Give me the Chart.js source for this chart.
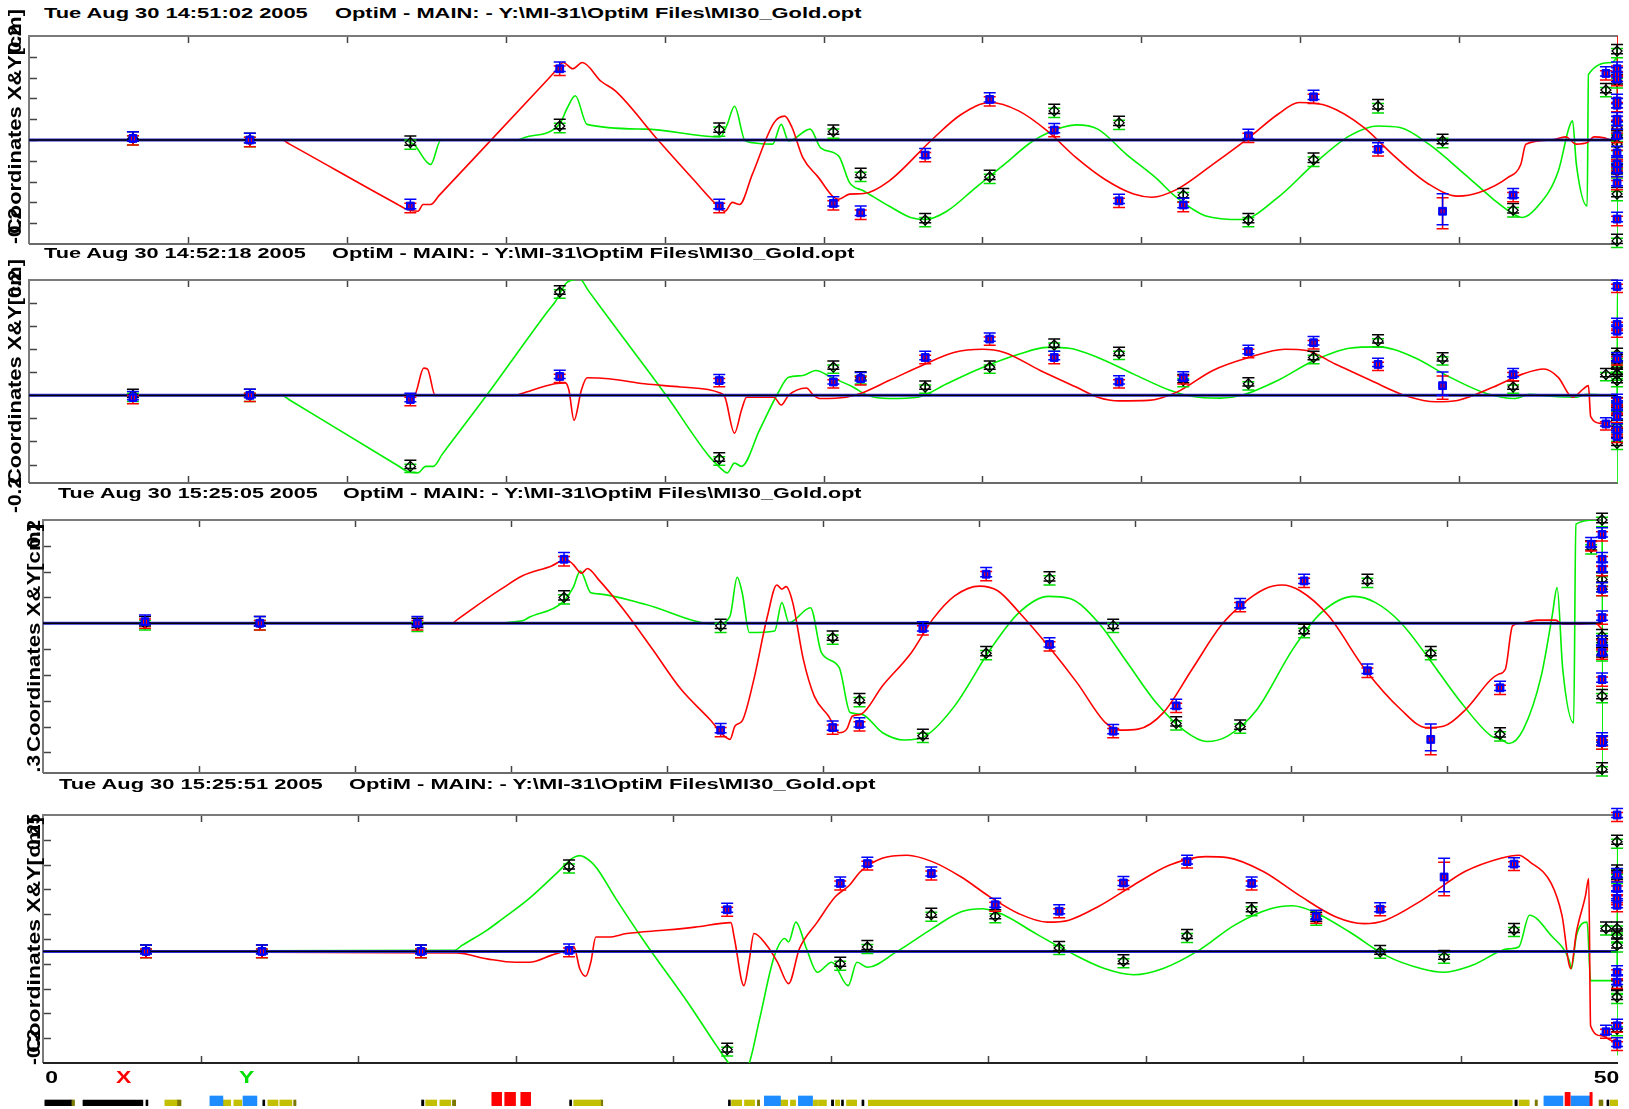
<!DOCTYPE html>
<html>
<head>
<meta charset="utf-8">
<title>OptiM orbit comparison</title>
<script src="https://cdn.jsdelivr.net/npm/chart.js@4.4.1/dist/chart.umd.min.js"></script>
<style>
  html, body { margin: 0; padding: 0; background: #fff; }
  body { width: 1629px; height: 1109px; position: relative; overflow: hidden;
         font-family: "Liberation Sans", Arial, sans-serif; }
  canvas { position: absolute; }
  .ttl { position: absolute; font-weight: bold; font-size: 14px; line-height: 14px;
         white-space: pre; transform-origin: 0 50%; color: #000; }
  .ylab { position: absolute; font-weight: bold; font-size: 18px; line-height: 18px;
          white-space: pre; transform-origin: 0 0; color: #000; }
  .xlab { position: absolute; font-weight: bold; font-size: 17px; line-height: 17px;
          white-space: pre; }
  .clip { position: absolute; overflow: hidden; }
</style>
</head>
<body>
<script>
// ---------- run headers ----------
const runTimes = ['Tue Aug 30 14:51:02 2005', 'Tue Aug 30 14:52:18 2005',
                  'Tue Aug 30 15:25:05 2005', 'Tue Aug 30 15:25:51 2005'];
const runFile = 'OptiM - MAIN: - Y:\\MI-31\\OptiM Files\\MI30_Gold.opt';
const axisTitle = 'Coordinates X&Y[cm]';
const axisEnds = [['-0.2', '0.2'], ['-0.2', '0.2'], ['-0.3', '0.2'], ['-0.2', '0.25']];
const sLabels = ['0', '50'];
const planeLabels = ['X', 'Y'];

// ---------- BPM positions along the line ----------
const bpmS = [3.27, 6.95, 12.0, 16.7, 21.72, 25.31, 26.17, 28.2, 30.23, 32.26, 34.3, 36.32, 38.37, 40.42, 42.45, 44.48, 46.7, 49.62];
const endS = 49.97;          // BPM group at the end of the line
const measErr = 0.009;       // typical BPM error [cm]
const wideBpm = 15;          // BPM with the large error
const wideErrX = [0.03, 0.025, 0.026, 0.034];

// ---------- measured orbits (X, Y) ----------
const measX1 = [0.003, 0, -0.127, 0.137, -0.127, -0.122, -0.14, -0.029, 0.078, 0.019, -0.117, -0.125, 0.008, 0.083, -0.018, -0.137, -0.106, 0.128];
const measY1 = [0.003, 0, -0.005, 0.027, 0.02, 0.016, -0.067, -0.154, -0.071, 0.056, 0.033, -0.106, -0.154, -0.038, 0.065, -0.002, -0.135, 0.096];
const endX1 = [0.137, 0.126, 0.117, 0.075, 0.067, 0.04, 0.033, 0.008, -0.025, -0.046, -0.058, -0.083, -0.152];
const endY1 = [0.171, 0.113, 0.023, 0.008, -0.008, -0.05, -0.06, -0.104, -0.194];

const measX2 = [-0.005, 0, -0.009, 0.041, 0.032, 0.029, 0.036, 0.082, 0.122, 0.082, 0.029, 0.038, 0.095, 0.114, 0.067, 0.021, 0.045, -0.062];
const measY2 = [0, 0, -0.154, 0.224, -0.138, 0.061, 0.038, 0.018, 0.061, 0.109, 0.091, 0.032, 0.025, 0.082, 0.118, 0.079, 0.018, 0.045];
const endX2 = [0.236, 0.154, 0.139, 0.079, -0.011, -0.025, -0.046, -0.075, -0.089];
const endY2 = [0.089, 0.075, 0.061, 0.046, 0.032, -0.018, -0.039, -0.068, -0.104];

const measX3 = [0.003, 0, 0, 0.124, -0.207, -0.202, -0.196, -0.01, 0.095, -0.041, -0.209, -0.16, 0.035, 0.082, -0.092, -0.225, -0.125, 0.153];
const measY3 = [0, 0, -0.003, 0.05, -0.005, -0.028, -0.149, -0.218, -0.058, 0.087, -0.005, -0.194, -0.2, -0.015, 0.082, -0.058, -0.215, 0.147];
const endX3 = [0.172, 0.124, 0.105, 0.066, 0.011, -0.037, -0.057, -0.109, -0.225, -0.231];
const endY3 = [0.2, 0.085, 0.066, -0.025, -0.037, -0.06, -0.141, -0.231, -0.283];

const measX4 = [0, 0, 0, 0.002, 0.084, 0.137, 0.177, 0.157, 0.094, 0.081, 0.138, 0.181, 0.137, 0.07, 0.085, 0.15, 0.176, -0.162];
const measY4 = [0, 0, 0, 0.171, -0.198, -0.025, 0.009, 0.074, 0.071, 0.007, -0.02, 0.031, 0.085, 0.066, -0.001, -0.011, 0.043, 0.046];
const endX4 = [0.275, 0.154, 0.127, 0.107, 0.093, -0.042, -0.062, -0.15, -0.187];
const endY4 = [0.221, 0.161, 0.15, 0.046, 0.032, 0.012, -0.072, -0.092, -0.157];

// ---------- model orbits [s, coordinate] ----------
const modelX1 = [[0,0],[7.96,0],[8.2,-0.008],[11.6,-0.124],[11.88,-0.133],[12.24,-0.137],[12.4,-0.124],[12.64,-0.124],[12.9,-0.107],[16.3,0.115],[16.57,0.133],[16.81,0.149],[17.11,0.137],[17.41,0.149],[18.0,0.113],[18.46,0.094],[19.82,-0.002],[20.95,-0.079],[21.63,-0.124],[21.9,-0.137],[22.13,-0.12],[22.36,-0.124],[22.76,-0.066],[23.44,0.033],[23.78,0.046],[24.01,0.024],[24.35,-0.034],[24.8,-0.069],[25.48,-0.114],[25.82,-0.104],[26.27,-0.103],[27.06,-0.079],[28.42,0.001],[29.33,0.049],[30.24,0.072],[31.14,0.056],[32.05,0.017],[32.95,-0.034],[33.86,-0.076],[34.76,-0.104],[35.33,-0.11],[36.12,-0.095],[37.25,-0.047],[38.38,0.004],[39.29,0.049],[39.97,0.072],[40.88,0.065],[42.01,0.024],[42.91,-0.028],[44.05,-0.085],[44.95,-0.108],[45.63,-0.101],[46.54,-0.072],[46.94,-0.047],[47.1,-0.008],[47.89,0],[48.35,0.006],[48.69,-0.008],[49.03,-0.005],[49.25,0.006],[49.82,-0.002],[49.96,-0.01],[50,0.21]];
const modelY1 = [[0,0],[11.64,0],[12.1,-0.008],[12.64,-0.047],[12.96,0],[15.37,0],[15.6,0.005],[16.69,0.03],[16.94,0.062],[17.19,0.085],[17.56,0.03],[19.37,0.021],[21.75,0.006],[21.97,0.03],[22.2,0.065],[22.54,-0.002],[23.4,-0.008],[23.67,0.03],[23.9,-0.002],[24.58,0.021],[24.91,-0.015],[25.48,-0.031],[25.82,-0.082],[26.27,-0.098],[27.06,-0.127],[27.74,-0.149],[28.2,-0.153],[28.88,-0.137],[29.78,-0.092],[30.69,-0.047],[31.59,-0.002],[32.5,0.024],[32.95,0.029],[33.63,0.021],[34.54,-0.028],[35.44,-0.072],[36.12,-0.111],[37.03,-0.146],[38.16,-0.153],[39.29,-0.111],[40.42,-0.047],[41.55,0.008],[42.46,0.027],[43.14,0.024],[44.05,-0.008],[45.18,-0.066],[46.08,-0.114],[46.65,-0.14],[46.99,-0.149],[47.44,-0.13],[48.12,-0.06],[48.46,0.024],[48.57,0.037],[48.69,-0.047],[49.03,-0.127],[49.07,0.126],[49.82,0.149],[49.97,0.158],[50,-0.21]];

const modelX2 = [[0,0],[12.12,0],[12.42,0.059],[12.54,0.057],[12.78,0],[15.3,0],[15.5,0.004],[16.54,0.025],[16.88,0.027],[16.99,0.011],[17.15,-0.054],[17.38,0.011],[17.56,0.038],[18.24,0.036],[19.37,0.025],[20.5,0.018],[21.75,0.005],[21.9,-0.004],[22.2,-0.082],[22.42,-0.032],[22.58,-0.004],[23.44,-0.004],[23.67,-0.021],[23.9,0],[24.46,0.016],[24.69,0],[24.91,-0.007],[25.71,-0.004],[26.16,0.004],[27.06,0.032],[28.2,0.068],[29.1,0.093],[30.01,0.1],[30.69,0.093],[31.82,0.054],[32.95,0.018],[33.63,-0.004],[34.31,-0.012],[35.22,-0.011],[36.12,0.007],[37.25,0.054],[38.38,0.082],[39.52,0.1],[40.2,0.097],[41.1,0.068],[42.23,0.032],[43.37,-0.002],[44.27,-0.014],[44.95,-0.011],[46.08,0.018],[46.99,0.046],[47.67,0.057],[48.12,0.039],[48.57,-0.004],[48.91,0.014],[49.07,0.021],[49.14,-0.046],[49.48,-0.061],[49.82,-0.068],[49.98,-0.07]];
const modelY2 = [[0,0],[7.96,0],[8.2,-0.01],[11.6,-0.152],[11.88,-0.164],[12.24,-0.168],[12.48,-0.154],[12.72,-0.154],[13.0,-0.128],[14.4,0],[16.3,0.18],[16.57,0.204],[16.93,0.245],[17.33,0.252],[17.6,0.227],[18.46,0.147],[20.05,0],[21.4,-0.132],[21.75,-0.157],[21.97,-0.168],[22.2,-0.147],[22.42,-0.154],[22.99,-0.075],[23.56,0.004],[23.9,0.039],[24.35,0.043],[24.76,0.054],[25.25,0.039],[25.93,0.018],[26.39,0],[27.06,-0.007],[27.97,-0.004],[28.88,0.025],[29.78,0.054],[31.14,0.089],[32.05,0.104],[32.73,0.102],[33.63,0.082],[34.76,0.046],[35.9,0.011],[36.57,-0.002],[37.48,-0.006],[38.16,0],[39.29,0.032],[40.42,0.075],[41.55,0.102],[42.46,0.105],[43.59,0.082],[44.72,0.039],[45.86,0.004],[46.76,-0.007],[47.21,0.002],[47.89,-0.002],[48.69,-0.004],[49.03,0.002],[49.82,0],[49.97,0],[49.99,0.26],[50,-0.2]];

const modelX3 = [[0,0],[13.1,0],[13.3,0.008],[14.11,0.043],[14.68,0.066],[15.37,0.092],[16.3,0.111],[16.76,0.124],[16.99,0.114],[17.26,0.097],[17.45,0.106],[17.8,0.085],[18.6,0.027],[19.53,-0.05],[20.45,-0.128],[21.37,-0.186],[21.83,-0.218],[22.02,-0.225],[22.18,-0.199],[22.41,-0.189],[22.76,-0.115],[23.22,0.014],[23.52,0.074],[23.68,0.066],[23.82,0.071],[24.03,0.04],[24.37,-0.07],[24.72,-0.141],[25.18,-0.18],[25.52,-0.212],[25.76,-0.205],[25.94,-0.18],[26.22,-0.176],[26.91,-0.121],[27.83,-0.057],[28.52,0.008],[29.22,0.053],[30.02,0.072],[30.6,0.063],[31.29,0.021],[32.22,-0.044],[33.14,-0.115],[34.06,-0.193],[34.52,-0.207],[35.1,-0.205],[35.91,-0.173],[36.83,-0.089],[37.75,-0.005],[38.44,0.037],[39.14,0.066],[39.71,0.074],[40.29,0.063],[41.21,0.014],[42.37,-0.089],[43.52,-0.167],[44.33,-0.202],[44.91,-0.199],[45.6,-0.167],[46.41,-0.109],[46.64,-0.099],[46.87,-0.089],[47.1,-0.005],[47.33,0],[47.9,0.006],[48.48,0.006],[48.71,-0.002],[49.17,-0.002],[49.75,0],[49.98,-0.012]];
const modelY3 = [[0,0],[14.0,0],[15.37,0.005],[15.6,0.012],[16.64,0.04],[16.99,0.069],[17.22,0.101],[17.56,0.059],[17.8,0.057],[19.29,0.037],[21.6,-0.002],[22.02,0.014],[22.25,0.089],[22.41,0.059],[22.64,-0.018],[23.45,-0.015],[23.68,0.04],[23.91,0.001],[24.6,0.03],[24.95,-0.057],[25.52,-0.086],[25.87,-0.173],[26.22,-0.176],[26.91,-0.212],[27.6,-0.226],[28.29,-0.218],[29.22,-0.16],[30.37,-0.05],[31.29,0.021],[32.22,0.052],[32.91,0.048],[33.83,0.001],[34.75,-0.076],[35.68,-0.154],[36.6,-0.209],[37.29,-0.229],[37.98,-0.218],[38.91,-0.167],[40.06,-0.05],[40.98,0.021],[42.02,0.052],[42.71,0.04],[43.52,0.001],[44.44,-0.07],[45.37,-0.147],[46.41,-0.218],[46.75,-0.225],[46.98,-0.233],[47.45,-0.205],[48.02,-0.102],[48.37,0.014],[48.53,0.069],[48.71,-0.089],[49.06,-0.193],[49.13,0.192],[49.75,0.2],[49.97,0.205],[50,-0.3]];

const modelX4 = [[0,0],[13.12,-0.003],[14.1,-0.015],[14.99,-0.022],[15.44,-0.022],[16.13,-0.008],[16.7,0.005],[16.85,0.01],[17.04,-0.035],[17.23,-0.05],[17.39,-0.022],[17.55,0.029],[17.96,0.029],[18.53,0.036],[19.78,0.043],[20.7,0.049],[21.84,0.058],[21.95,0.026],[22.25,-0.069],[22.41,-0.022],[22.57,0.036],[22.98,0.012],[23.32,-0.022],[23.67,-0.065],[24.01,0.005],[24.58,0.059],[25.15,0.11],[25.61,0.134],[25.95,0.161],[26.64,0.188],[27.44,0.194],[28.23,0.181],[29.15,0.15],[30.06,0.11],[30.98,0.076],[31.89,0.059],[32.57,0.063],[33.49,0.09],[34.63,0.134],[35.77,0.174],[36.91,0.191],[37.6,0.189],[38.74,0.161],[39.88,0.113],[41.03,0.07],[41.94,0.056],[42.62,0.063],[43.77,0.103],[45.14,0.161],[46.28,0.188],[46.85,0.194],[47.19,0.181],[47.88,0.137],[48.22,0.073],[48.5,-0.035],[48.68,0.039],[48.97,0.113],[49.07,0.147],[49.13,-0.15],[49.48,-0.17],[49.82,-0.18],[49.98,-0.175]];
const modelY4 = [[0,0],[13.06,0.002],[13.3,0.012],[14.1,0.043],[14.53,0.063],[15.44,0.107],[16.36,0.161],[16.81,0.188],[17.04,0.193],[17.39,0.181],[17.6,0.166],[18.18,0.107],[19.1,0.019],[20.47,-0.103],[21.38,-0.19],[21.79,-0.227],[22.1,-0.245],[22.41,-0.227],[22.75,-0.136],[23.21,-0.011],[23.55,0.026],[23.67,0.019],[23.9,0.059],[24.24,0.005],[24.58,-0.042],[25.04,-0.022],[25.56,-0.069],[25.84,-0.022],[26.18,-0.032],[27.09,-0.001],[28.23,0.046],[29.15,0.08],[29.83,0.086],[30.52,0.073],[31.43,0.039],[32.57,-0.001],[33.72,-0.035],[34.63,-0.047],[35.54,-0.035],[36.69,0.002],[37.83,0.053],[38.97,0.086],[39.66,0.092],[40.34,0.08],[41.48,0.039],[42.62,-0.008],[43.77,-0.035],[44.45,-0.042],[45.37,-0.028],[46.51,0.005],[46.85,0.009],[47.19,0.073],[47.88,0.032],[48.45,-0.018],[48.52,-0.035],[48.68,0.032],[49.02,0.059],[49.13,-0.059],[49.82,-0.059],[49.97,-0.059],[49.99,0.23],[50,-0.21]];

// ---------- lattice strip: element extents [s_start, s_end] ----------
const latticeBlack = [[0.06,0.92],[1.27,3.17],[3.27,3.33],[6.98,7.04],[12.02,12.09],[16.72,16.78],[21.76,21.82],[25.03,25.1],[25.35,25.41],[26.0,26.06],[46.73,46.8],[49.65,49.71]];
const latticeQuad = [[3.87,4.25],[5.71,5.96],[6.06,6.31],[7.14,7.46],[7.52,7.9],[12.15,12.5],[12.6,12.94],[16.85,17.26],[17.28,17.7],[21.86,22.18],[22.27,22.59],[23.41,23.64],[23.73,23.89],[24.46,24.59],[24.62,24.87],[25.16,25.29],[25.51,25.83],[26.2,46.64],[46.86,47.18],[49.75,50]];
const latticeDark = [[0.92,1.0],[4.25,4.38],[7.96,8.03],[13.0,13.1],[17.7,17.77],[22.68,22.75],[47.37,47.44],[49.4,49.52]];
const latticeKicker = [[5.3,5.71],[6.35,6.79],[22.9,23.41],[23.98,24.43],[47.65,48.25],[48.51,49.11]];
const latticeSept = [[14.25,14.56],[14.66,15.0],[15.17,15.48],[48.32,48.48],[49.11,49.18]];

// ---------- page layout ----------
const panels = [
  { left: 29, right: 1618, top: 36,  bottom: 244,  min: -0.2,   max: 0.2,   step: 0.04, from: 0,
    mx: measX1, my: measY1, ex: endX1, ey: endY1, cx: modelX1, cy: modelY1, base: '#6a6a6a' },
  { left: 29, right: 1618, top: 280, bottom: 483,  min: -0.19,  max: 0.25,  step: 0.05, from: 0,
    mx: measX2, my: measY2, ex: endX2, ey: endY2, cx: modelX2, cy: modelY2, base: '#6a6a6a' },
  { left: 43, right: 1603, top: 520, bottom: 773,  min: -0.29,  max: 0.2,   step: 0.05, from: 0,
    mx: measX3, my: measY3, ex: endX3, ey: endY3, cx: modelX3, cy: modelY3, base: '#6a6a6a' },
  { left: 43, right: 1618, top: 815, bottom: 1063, min: -0.225, max: 0.275, step: 0.05, from: -0.225,
    mx: measX4, my: measY4, ex: endX4, ey: endY4, cx: modelX4, cy: modelY4, base: '#222' }
];

const titleLayout = [
  { y: 12.8,  l: 44, r: 308, l2: 335 },
  { y: 253.3, l: 44, r: 306, l2: 332 },
  { y: 493.3, l: 58, r: 318, l2: 343 },
  { y: 783.7, l: 59, r: 323, l2: 349 }
];

const axisLabelLayout = [
  { x: 6,    minY: 244,  titleY: 234,  titleLen: 225, maxY: 53,  maxLen: 28 },
  { x: 6,    minY: 513,  titleY: 484,  titleLen: 225, maxY: 298, maxLen: 28 },
  { x: 24.5, minY: 791,  titleY: 752,  titleLen: 228, maxY: 548, maxLen: 28, clip: { l: 0, t: 495, w: 60, h: 278 } },
  { x: 24.5, minY: 1065, titleY: 1053, titleLen: 236, maxY: 850, maxLen: 36 }
];

const RED = '#ff0000', GREEN = '#00ee00', BLUE = '#0000ff';

// ---------- plugins ----------
const framePlugin = {
  id: 'frame',
  beforeDatasetsDraw(chart, _args, o) {
    const { ctx, chartArea: a, scales: { x, y } } = chart;
    ctx.save();
    ctx.lineWidth = 1.5;
    ctx.strokeStyle = '#444';
    ctx.beginPath();
    for (let v = 5; v < 50; v += 5) {
      const px = Math.round(x.getPixelForValue(v)) + 0.5;
      ctx.moveTo(px, a.top); ctx.lineTo(px, a.top + 7);
      ctx.moveTo(px, a.bottom); ctx.lineTo(px, a.bottom - 7);
    }
    for (const v of o.yTicks) {
      const py = Math.round(y.getPixelForValue(v)) + 0.5;
      ctx.moveTo(a.left, py); ctx.lineTo(a.left + 8, py);
    }
    ctx.stroke();
    ctx.lineWidth = 2;
    ctx.strokeStyle = '#7a7a7a';
    ctx.beginPath();
    ctx.moveTo(a.left, a.bottom); ctx.lineTo(a.left, a.top); ctx.lineTo(a.right, a.top);
    ctx.stroke();
    ctx.strokeStyle = o.base;
    ctx.beginPath();
    ctx.moveTo(a.left, a.bottom); ctx.lineTo(a.right, a.bottom);
    ctx.stroke();
    ctx.restore();
  }
};

const errorBarPlugin = {
  id: 'errbars',
  beforeDatasetDraw(chart, args) {
    const ds = chart.data.datasets[args.index];
    if (!ds.errStyle) return;
    const { ctx } = chart;
    const y = chart.scales.y;
    ctx.save();
    ctx.lineWidth = 1.5;
    args.meta.data.forEach((pt, i) => {
      const d = ds.data[i];
      const h = Math.abs(y.getPixelForValue(d.y + d.e) - y.getPixelForValue(d.y));
      ds.errStyle.forEach(s => {
        const cy = pt.y + s.dy;
        ctx.strokeStyle = s.color;
        ctx.beginPath();
        ctx.moveTo(pt.x, cy - h); ctx.lineTo(pt.x, cy + h);
        ctx.moveTo(pt.x - 6, cy - h); ctx.lineTo(pt.x + 6, cy - h);
        ctx.moveTo(pt.x - 6, cy + h); ctx.lineTo(pt.x + 6, cy + h);
        ctx.stroke();
      });
    });
    ctx.restore();
  },
  afterDatasetDraw(chart, args) {
    const ds = chart.data.datasets[args.index];
    if (!ds.stripes) return;
    const { ctx } = chart;
    ctx.save();
    ctx.strokeStyle = RED;
    ctx.lineWidth = 1;
    ctx.beginPath();
    args.meta.data.forEach(pt => {
      ctx.moveTo(pt.x - 1.5, pt.y - 2); ctx.lineTo(pt.x - 1.5, pt.y + 2);
      ctx.moveTo(pt.x + 1.5, pt.y - 2); ctx.lineTo(pt.x + 1.5, pt.y + 2);
    });
    ctx.stroke();
    ctx.restore();
  }
};

function makeTicks(p) {
  const out = [];
  const n0 = Math.ceil((p.min - p.from) / p.step - 1e-6);
  const n1 = Math.floor((p.max - p.from) / p.step + 1e-6);
  for (let k = n0; k <= n1; k++) {
    const v = +(p.from + k * p.step).toFixed(4);
    if (v > p.min + 1e-6 && v < p.max - 1e-6) out.push(v);
  }
  return out;
}

function measured(vals, ends, wide) {
  const pts = bpmS.map((s, i) => ({ x: s, y: vals[i], e: i === wideBpm && wide ? wide : measErr }));
  ends.forEach(v => pts.push({ x: endS, y: v, e: measErr }));
  return pts;
}

function curve(pairs) { return pairs.map(([s, v]) => ({ x: s, y: v })); }

function drawPanel(p, idx) {
  const pad = 14;
  const c = document.createElement('canvas');
  c.width = p.right - p.left + 2 * pad;
  c.height = p.bottom - p.top + 2 * pad;
  c.style.left = (p.left - pad) + 'px';
  c.style.top = (p.top - pad) + 'px';
  document.body.appendChild(c);

  const line = (data, color, width, order) => ({
    data, showLine: true, borderColor: color, borderWidth: width, pointRadius: 0,
    cubicInterpolationMode: 'monotone', order
  });

  new Chart(c, {
    type: 'scatter',
    data: {
      datasets: [
        { data: measured(p.mx, p.ex, wideErrX[idx]), pointStyle: 'rect', pointRadius: 5.5,
          backgroundColor: BLUE, borderColor: BLUE, borderWidth: 1, clip: false, order: 0,
          errStyle: [{ color: RED, dy: 2 }, { color: BLUE, dy: -2 }], stripes: true },
        { data: measured(p.my, p.ey, 0), pointStyle: 'rectRot', pointRadius: 5,
          backgroundColor: 'rgba(0,0,0,0)', borderColor: '#000', borderWidth: 1.3, clip: false, order: 1,
          errStyle: [{ color: '#00dd00', dy: 2 }, { color: '#000', dy: -2 }] },
        line([{ x: 0, y: 0 }, { x: 50, y: 0 }], '#000', 1.3, 2),
        line([{ x: 0, y: 0 }, { x: 50, y: 0 }], '#2a2ad0', 3, 3),
        line(curve(p.cx), RED, 1.6, 4),
        line(curve(p.cy), GREEN, 1.6, 5)
      ]
    },
    options: {
      responsive: false, animation: false, events: [],
      layout: { padding: pad },
      plugins: { legend: { display: false }, tooltip: { enabled: false },
                 frame: { yTicks: makeTicks(p), base: p.base } },
      scales: {
        x: { type: 'linear', min: 0, max: 50, display: false },
        y: { type: 'linear', min: p.min, max: p.max, display: false }
      }
    },
    plugins: [framePlugin, errorBarPlugin]
  });
}

panels.forEach(drawPanel);

// ---------- lattice strip ----------
(function drawLattice() {
  const rows = ['r0', 'r1', 'r2', 'r3', 'r4', 'r5', 'r6'];
  const rowsFor = (blocks, first) => {
    const out = [];
    blocks.forEach(b => { for (let r = first; r < rows.length; r++) out.push({ x: b, y: rows[r] }); });
    return out;
  };
  const c = document.createElement('canvas');
  c.width = 1575; c.height = 14;
  c.style.left = '43px'; c.style.top = '1092px';
  document.body.appendChild(c);
  const bar = (data, color) => ({ data, backgroundColor: color, borderWidth: 0,
    barPercentage: 1, categoryPercentage: 1, grouped: false });
  new Chart(c, {
    type: 'bar',
    data: {
      labels: rows,
      datasets: [
        bar(rowsFor(latticeSept, 0), '#ff0000'),
        bar(rowsFor(latticeKicker, 2), '#1e8cff'),
        bar(rowsFor(latticeQuad, 4), '#c2c000'),
        bar(rowsFor(latticeDark, 4), '#7c7a00'),
        bar(rowsFor(latticeBlack, 4), '#000000')
      ]
    },
    options: {
      indexAxis: 'y', responsive: false, animation: false, events: [],
      layout: { padding: 0 },
      plugins: { legend: { display: false }, tooltip: { enabled: false } },
      scales: {
        x: { type: 'linear', min: 0, max: 50, display: false },
        y: { type: 'category', display: false }
      }
    }
  });
})();

// ---------- text ----------
function addTitle(t, lay) {
  const a = document.createElement('div');
  a.className = 'ttl'; a.textContent = t;
  document.body.appendChild(a);
  const k = (lay.r - lay.l) / a.offsetWidth;
  a.style.left = lay.l + 'px'; a.style.top = (lay.y - 7) + 'px';
  a.style.transform = `scaleX(${k})`;
  const b = document.createElement('div');
  b.className = 'ttl'; b.textContent = runFile;
  document.body.appendChild(b);
  b.style.left = lay.l2 + 'px'; b.style.top = (lay.y - 7) + 'px';
  b.style.transform = `scaleX(${k})`;
}
runTimes.forEach((t, i) => addTitle(t, titleLayout[i]));

function vlabel(host, text, x, y0, len) {
  const d = document.createElement('div');
  d.className = 'ylab'; d.textContent = text;
  host.appendChild(d);
  const k = len / d.offsetWidth;
  d.style.left = x + 'px'; d.style.top = y0 + 'px';
  d.style.transform = `rotate(-90deg) scaleX(${k})`;
}
axisLabelLayout.forEach((L, i) => {
  let host = document.body, ox = 0, oy = 0;
  if (L.clip) {
    host = document.createElement('div');
    host.className = 'clip';
    Object.assign(host.style, { left: L.clip.l + 'px', top: L.clip.t + 'px', width: L.clip.w + 'px', height: L.clip.h + 'px' });
    document.body.appendChild(host);
    ox = L.clip.l; oy = L.clip.t;
  }
  vlabel(host, axisEnds[i][0], L.x - ox, L.minY - oy, 36);
  vlabel(host, axisTitle, L.x - ox, L.titleY - oy, L.titleLen);
  vlabel(host, axisEnds[i][1], L.x - ox, L.maxY - oy, L.maxLen);
});

function xlabel(text, cx, cy, color) {
  const d = document.createElement('div');
  d.className = 'xlab'; d.textContent = text; d.style.color = color;
  document.body.appendChild(d);
  const w = d.offsetWidth, h = d.offsetHeight;
  d.style.left = (cx - w / 2) + 'px'; d.style.top = (cy - h / 2) + 'px';
  d.style.transform = 'scaleX(1.35)';
}
xlabel(sLabels[0], 51, 1077, '#000');
xlabel(planeLabels[0], 123.5, 1077, '#ff0000');
xlabel(planeLabels[1], 246, 1077, '#00e000');
xlabel(sLabels[1], 1606, 1077, '#000');
</script>
</body>
</html>
